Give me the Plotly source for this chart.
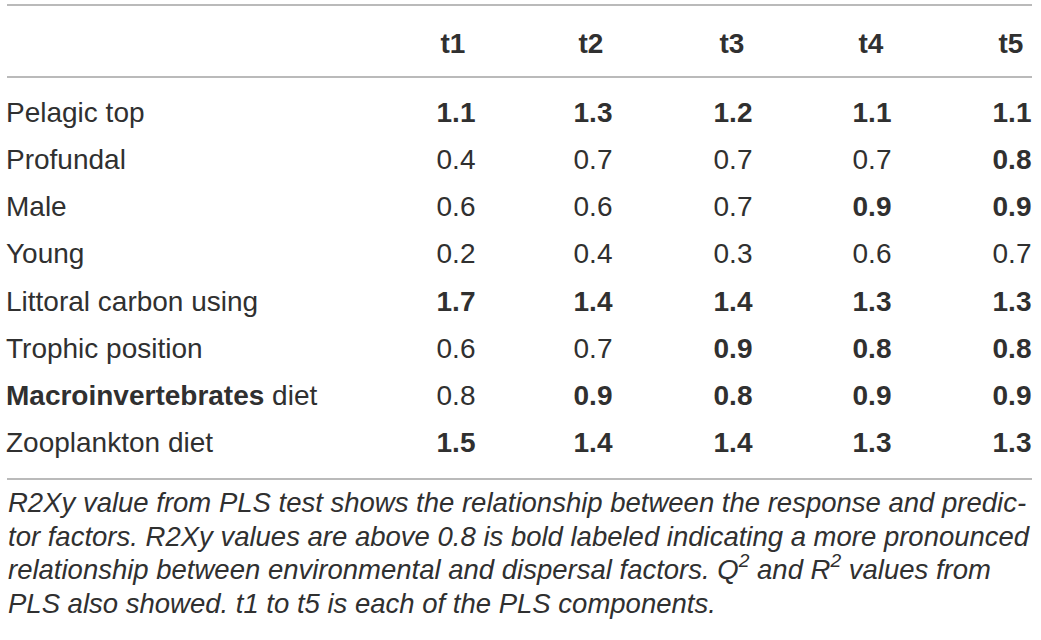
import plotly.graph_objects as go

# table content
components = ["t1", "t2", "t3", "t4", "t5"]
row_labels = [
    "Pelagic top",
    "Profundal",
    "Male",
    "Young",
    "Littoral carbon using",
    "Trophic position",
    "<b>Macroinvertebrates</b> diet",
    "Zooplankton diet",
]
t1 = [1.1, 0.4, 0.6, 0.2, 1.7, 0.6, 0.8, 1.5]
t2 = [1.3, 0.7, 0.6, 0.4, 1.4, 0.7, 0.9, 1.4]
t3 = [1.2, 0.7, 0.7, 0.3, 1.4, 0.9, 0.8, 1.4]
t4 = [1.1, 0.7, 0.9, 0.6, 1.3, 0.8, 0.9, 1.3]
t5 = [1.1, 0.8, 0.9, 0.7, 1.3, 0.8, 0.9, 1.3]
# bold flags as printed in the source table
bold_t1 = [1, 0, 0, 0, 1, 0, 0, 1]
bold_t2 = [1, 0, 0, 0, 1, 0, 1, 1]
bold_t3 = [1, 0, 0, 0, 1, 1, 1, 1]
bold_t4 = [1, 0, 1, 0, 1, 1, 1, 1]
bold_t5 = [1, 1, 1, 0, 1, 1, 1, 1]
footnote = [
    "R2Xy value from PLS test shows the relationship between the response and predic-",
    "tor factors. R2Xy values are above 0.8 is bold labeled indicating a more pronounced",
    "relationship between environmental and dispersal factors. Q<sup>2</sup> and R<sup>2</sup> values from",
    "PLS also showed. t1 to t5 is each of the PLS components.",
]

values = [t1, t2, t3, t4, t5]
bolds = [bold_t1, bold_t2, bold_t3, bold_t4, bold_t5]

FONT = "Liberation Sans, Arial, sans-serif"
INK = "#303030"
RULE = "#a3a3a3"

# layout in page pixels
col_x = [456, 593, 733, 872, 1012]
head_x = [453, 591, 732, 871, 1011]
row_y = [115 + 47.15 * i for i in range(len(row_labels))]
head_y = 46
label_x = 6

fig = go.Figure()

fig.add_trace(go.Scatter(
    x=[label_x] * len(row_labels), y=row_y, mode="text",
    text=row_labels, textposition="middle right", cliponaxis=False,
    textfont=dict(family=FONT, size=28, color=INK),
    hoverinfo="skip", showlegend=False,
))

fig.add_trace(go.Scatter(
    x=head_x, y=[head_y] * len(components), mode="text",
    text=["<b>%s</b>" % c for c in components], textposition="middle center",
    cliponaxis=False,
    textfont=dict(family=FONT, size=28, color=INK),
    hoverinfo="skip", showlegend=False,
))

for cx, vals, bl in zip(col_x, values, bolds):
    txt = [("<b>%.1f</b>" % v) if b else ("%.1f" % v) for v, b in zip(vals, bl)]
    fig.add_trace(go.Scatter(
        x=[cx] * len(vals), y=row_y, mode="text",
        text=txt, textposition="middle center", cliponaxis=False,
        textfont=dict(family=FONT, size=28, color=INK),
        hoverinfo="skip", showlegend=False,
    ))

# horizontal rules
for ry in [5, 77, 479]:
    fig.add_shape(type="line", xref="x", yref="y", x0=7, x1=1032, y0=ry, y1=ry,
                  line=dict(color=RULE, width=1.5))

# caption, anchored at the bottom so the superscripts do not shift line 3
for i, line in enumerate(footnote):
    fig.add_annotation(
        x=label_x, y=520 + 33.7 * i, xref="x", yref="y",
        text="<i>%s</i>" % line, showarrow=False,
        xanchor="left", yanchor="bottom",
        font=dict(family=FONT, size=27.5, color=INK),
    )

fig.update_layout(
    width=1041, height=640,
    margin=dict(l=0, r=0, t=0, b=0),
    paper_bgcolor="white", plot_bgcolor="white",
    xaxis=dict(range=[0, 1041], visible=False, fixedrange=True),
    yaxis=dict(range=[640, 0], visible=False, fixedrange=True),
)

# drop the default body margin so the figure sits at the page corner
fig.write_html("out.html", config={"displayModeBar": False},
               post_script="document.body.style.margin='0';")
